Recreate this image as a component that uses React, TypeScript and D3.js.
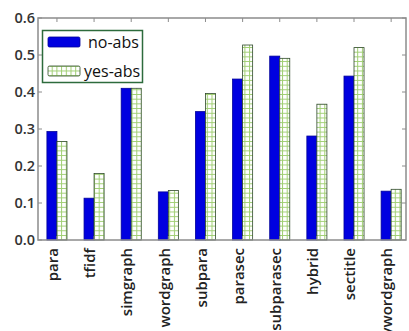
import React from "react";
import * as d3 from "d3";

const categories = ["para", "tfidf", "simgraph", "wordgraph", "subpara", "parasec", "subparasec", "hybrid", "sectitle", "keywordgraph"];
const noAbs = [0.293, 0.113, 0.41, 0.13, 0.347, 0.435, 0.497, 0.281, 0.443, 0.132];
const yesAbs = [0.266, 0.18, 0.41, 0.134, 0.396, 0.527, 0.491, 0.367, 0.52, 0.137];
const yTicks = [0.0, 0.1, 0.2, 0.3, 0.4, 0.5, 0.6];
const seriesNames = ["no-abs", "yes-abs"];

const W = 409;
const H = 331;
const left = 38;
const right = 406;
const top = 18;
const bottom = 240;

export default function App() {
  const x = d3.scaleLinear().domain([-0.51, 9.4]).range([left, right]);
  const y = d3.scaleLinear().domain([0, 0.6]).range([bottom, top]);
  const bw = x(0.27) - x(0);
  const font = "'Open Sans', 'DejaVu Sans', sans-serif";
  const spine = "#8c8c8c";

  return (
    <svg width={W} height={H} style={{ position: "absolute", left: 0, top: 0 }}>
      <defs>
        <pattern id="grid" width={4.7} height={4.7} patternUnits="userSpaceOnUse" x={0} y={0}>
          <rect width={4.7} height={4.7} fill="#ffffff" />
          <path d="M0,0.5H4.7M0.5,0V4.7" stroke="#9fce72" strokeWidth={1} />
        </pattern>
      </defs>
      <rect width={W} height={H} fill="#ffffff" />

      {categories.map((c, i) => (
        <g key={c}>
          <rect x={x(i) - bw} y={y(noAbs[i])} width={bw} height={y(0) - y(noAbs[i])}
            fill="#0000e0" stroke="#00009a" strokeWidth={0.8} />
          <rect x={x(i)} y={y(yesAbs[i])} width={bw} height={y(0) - y(yesAbs[i])}
            fill="url(#grid)" stroke="#2f4a2a" strokeWidth={0.8} />
        </g>
      ))}

      {/* frame */}
      <rect x={left} y={top} width={right - left} height={bottom - top} fill="none" stroke={spine} strokeWidth={1.5} />

      {/* y ticks, left and right, inward */}
      {yTicks.map((t) => (
        <g key={t}>
          <line x1={left} x2={left + 4} y1={y(t)} y2={y(t)} stroke={spine} />
          <line x1={right - 4} x2={right} y1={y(t)} y2={y(t)} stroke={spine} />
          <text x={left - 3} y={y(t)} dy="0.36em" textAnchor="end" fontFamily={font} fontSize={14.5}
            fontWeight={600} fill="#333333">{t.toFixed(1)}</text>
        </g>
      ))}

      {/* x ticks, top and bottom, inward */}
      {categories.map((c, i) => (
        <g key={"t" + c}>
          <line x1={x(i)} x2={x(i)} y1={top} y2={top + 4} stroke={spine} />
          <line x1={x(i)} x2={x(i)} y1={bottom - 4} y2={bottom} stroke={spine} />
          <text transform={`translate(${x(i) - 4},${bottom + 8}) rotate(-90)`} textAnchor="end" dy="0.35em"
            fontFamily={font} fontSize={15} fontWeight={600} fill="#222222">{c}</text>
        </g>
      ))}

      {/* legend */}
      <g>
        <rect x={42.5} y={30.5} width={100} height={52} fill="#ffffff" stroke="#2d6b3c" strokeWidth={1.5} />
        <rect x={48} y={37} width={32} height={10} rx={1.5} fill="#0000e0" stroke="#00009a" strokeWidth={0.8} />
        <rect x={48} y={66} width={32} height={10} rx={1.5} fill="url(#grid)" stroke="#2f4a2a" strokeWidth={0.8} />
        <text x={88} y={42} dy="0.35em" fontFamily={font} fontSize={16} fontWeight={500} fill="#111111">{seriesNames[0]}</text>
        <text x={84} y={71} dy="0.35em" fontFamily={font} fontSize={16} fontWeight={500} fill="#111111">{seriesNames[1]}</text>
      </g>
    </svg>
  );
}
